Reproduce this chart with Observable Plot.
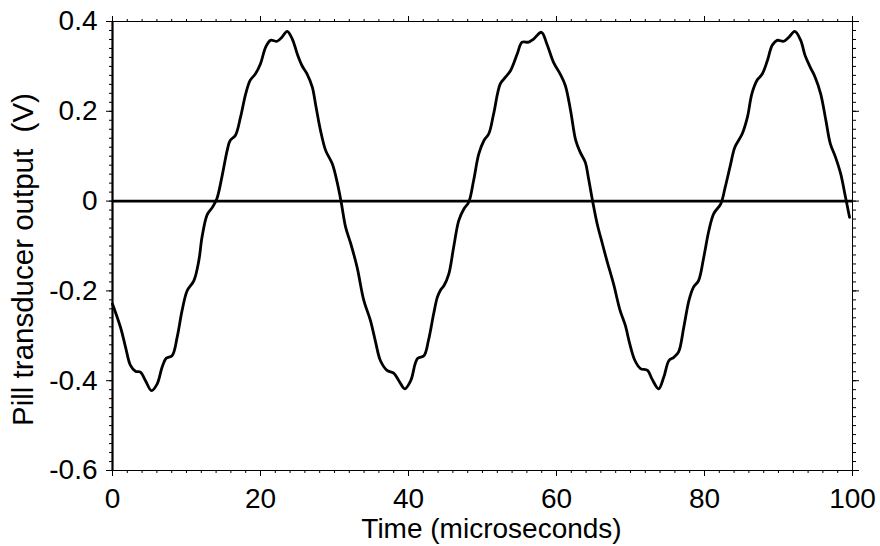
<!DOCTYPE html>
<html>
<head>
<meta charset="utf-8">
<script src="https://cdn.jsdelivr.net/npm/d3@7"></script>
<script src="https://cdn.jsdelivr.net/npm/@observablehq/plot@0.6"></script>
<style>
  html, body { margin: 0; padding: 0; background: #fff; }
  svg { display: block; }
  svg text { white-space: pre; }
</style>
</head>
<body>
<div id="chart"></div>
<script>
// Digitized waveform (time in microseconds, output in volts)
const time = [
  0, 1.08, 1.76, 2.43, 3.1, 3.78, 4.46, 5.27, 6.04, 6.7, 7.25, 8.06, 8.74, 9.4, 10.1, 11.0,
  11.67, 12.1, 12.8, 13.5, 14.1, 14.8, 15.5, 15.9, 16.6, 17.3, 18.0, 18.6, 19.3, 20.0, 20.7,
  21.35, 22.25, 22.9, 23.6, 24.3, 24.96, 25.6, 26.3, 27.0, 27.5, 28.1, 28.8, 29.7, 30.4, 30.9,
  31.5, 32.2, 33.05, 33.96, 34.86, 35.5, 36.2, 37.1, 38.0, 38.7, 39.5, 40.3, 41.2, 42.1, 42.7,
  43.4, 43.9, 44.3, 44.8, 45.45, 46.1, 46.8, 47.5, 48.15, 48.8, 49.5, 50.2, 50.85, 51.5, 52.4,
  53.1, 53.8, 54.7, 55.35, 56.25, 56.9, 57.97, 58.7, 59.6, 60.5, 61.2, 61.9, 62.6, 63.2, 63.9,
  64.3, 64.9, 65.5, 66.2, 66.8, 67.7, 68.6, 69.3, 69.9, 70.6, 71.35, 72.3, 72.9, 73.8, 74.5,
  75.2, 75.85, 76.5, 77.2, 77.9, 78.5, 79.2, 79.9, 80.6, 81.25, 82.2, 82.8, 83.5, 84.1, 85.1,
  85.8, 86.4, 87.1, 87.8, 88.5, 89.15, 89.8, 90.7, 91.4, 92.2, 93.0, 93.6, 94.3, 94.95, 95.7,
  96.4, 97.0, 97.7, 98.4, 99.05, 99.6
];
const voltage = [
  -0.229, -0.281, -0.325, -0.366, -0.379, -0.381, -0.400, -0.422, -0.407, -0.370, -0.350, -0.344, -0.303, -0.244, -0.199, -0.177,
  -0.132, -0.080, -0.030, -0.014, 0.005, 0.055, 0.113, 0.135, 0.146, 0.187, 0.239, 0.269, 0.283, 0.306, 0.343,
  0.358, 0.356, 0.365, 0.378, 0.361, 0.328, 0.302, 0.283, 0.254, 0.210, 0.158, 0.113, 0.083, 0.039, -0.002,
  -0.058, -0.095, -0.147, -0.221, -0.266, -0.310, -0.355, -0.377, -0.383, -0.400, -0.418, -0.400, -0.351, -0.344, -0.310,
  -0.251, -0.214, -0.199, -0.188, -0.162, -0.103, -0.043, -0.017, -0.002, 0.046, 0.105, 0.135, 0.150, 0.194, 0.261,
  0.276, 0.291, 0.328, 0.354, 0.354, 0.361, 0.376, 0.350, 0.309, 0.283, 0.257, 0.202, 0.135, 0.109, 0.086,
  0.053, -0.002, -0.051, -0.095, -0.132, -0.184, -0.244, -0.277, -0.318, -0.355, -0.373, -0.377, -0.396, -0.418, -0.392,
  -0.355, -0.348, -0.336, -0.281, -0.221, -0.192, -0.177, -0.125, -0.065, -0.028, -0.006, 0.031, 0.080, 0.120, 0.150,
  0.187, 0.239, 0.269, 0.283, 0.313, 0.347, 0.358, 0.356, 0.365, 0.378, 0.358, 0.324, 0.298, 0.276, 0.239,
  0.180, 0.128, 0.098, 0.061, 0.009, -0.036
];
const xMajorTicks = [0, 20, 40, 60, 80, 100];
const yMajorTicks = [-0.6, -0.4, -0.2, 0, 0.2, 0.4];
const baseline = [0];
const xLabel = "Time (microseconds)";
const yLabel = "Pill transducer output  (V)";

const data = time.map((t, i) => ({t, v: voltage[i]}));
const xMinor = d3.range(0, 51).map(i => i * 2);
const yMinor = d3.range(-30, 21).map(i => i / 50);
const font = "'Liberation Sans', Arial, Helvetica, sans-serif";
const fs = 28;
const yFmt = d => (Math.abs(d) < 1e-9 ? "0" : d.toFixed(1));
const none = () => "";

const chart = Plot.plot({
  width: 880,
  height: 546,
  marginLeft: 112,
  marginRight: 28,
  marginTop: 21,
  marginBottom: 76,
  style: {fontFamily: font, background: "white", color: "black", overflow: "visible"},
  x: {domain: [0, 100]},
  y: {domain: [-0.6, 0.4]},
  marks: [
    Plot.axisX({anchor: "bottom", ticks: xMinor, tickSize: 3, tickFormat: none, label: null}),
    Plot.axisX({anchor: "bottom", ticks: xMajorTicks, tickSize: 6, tickPadding: 12, fontSize: fs, tickFormat: d => String(d), label: null}),
    Plot.axisX({anchor: "top", ticks: xMinor, tickSize: 3, tickFormat: none, label: null}),
    Plot.axisX({anchor: "top", ticks: xMajorTicks, tickSize: 6, tickFormat: none, label: null}),
    Plot.axisY({anchor: "left", ticks: yMinor, tickSize: 3, tickFormat: none, label: null}),
    Plot.axisY({anchor: "left", ticks: yMajorTicks, tickSize: 6, tickPadding: 9, fontSize: fs, tickFormat: yFmt, label: null}),
    Plot.axisY({anchor: "right", ticks: yMinor, tickSize: 3, tickFormat: none, label: null}),
    Plot.axisY({anchor: "right", ticks: yMajorTicks, tickSize: 6, tickFormat: none, label: null}),
    Plot.frame({stroke: "black", strokeWidth: 1}),
    Plot.ruleX(baseline, {stroke: "black", strokeWidth: 2.2}),
    Plot.ruleY(baseline, {stroke: "black", strokeWidth: 2.6}),
    Plot.line(data, {x: "t", y: "v", curve: "catmull-rom", stroke: "black", strokeWidth: 2.8, strokeLinejoin: "round"}),
    Plot.text([xLabel], {frameAnchor: "bottom", lineAnchor: "bottom", dy: 67, dx: 9, fontSize: fs, fill: "black"}),
    Plot.text([yLabel], {frameAnchor: "left", rotate: -90, lineAnchor: "bottom", textAnchor: "middle", dx: -80, dy: 13.5, fontSize: 29.5, fill: "black"})
  ]
});
document.getElementById("chart").appendChild(chart);
</script>
</body>
</html>
